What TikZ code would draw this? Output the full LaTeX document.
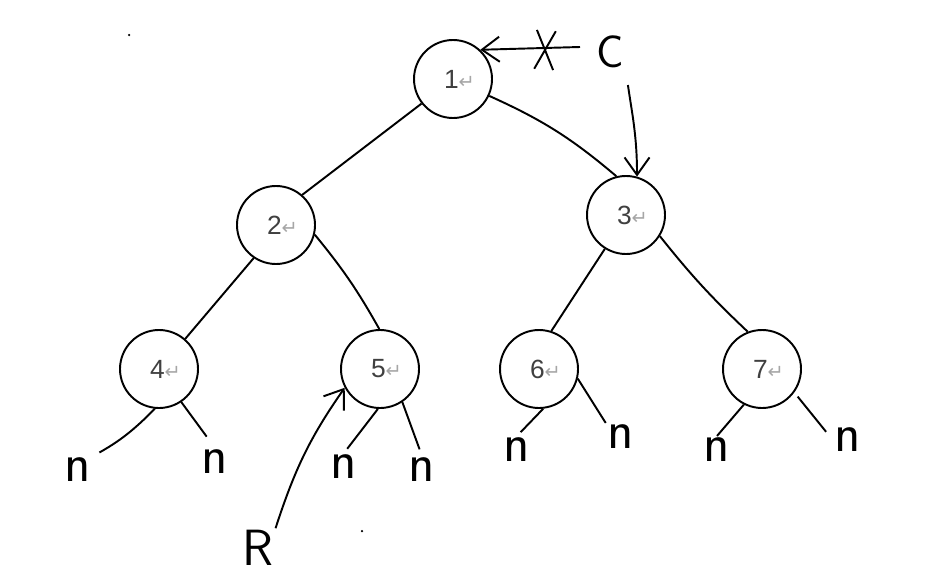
\documentclass[tikz,border=0pt]{standalone}
\usepackage{fontspec}
\newfontfamily\labelfont{Liberation Sans}
\newfontfamily\symfont{DejaVu Sans}
\usetikzlibrary{arrows.meta, shapes.misc, positioning}
\newcommand{\keylabel}[1]{\hspace{0.26cm}{\labelfont\fontsize{15}{15}\selectfont\color{black!75}#1}{\symfont\fontsize{11}{11}\selectfont\color{gray!70}↵}}
\tikzset{
    treenode/.style={circle, draw, line width=1.1pt, minimum size=1.56cm, inner sep=0pt},
    link/.style={line width=1.1pt},
    nullmark/.style={inner sep=1pt, font=\sffamily\fontsize{31}{31}\selectfont},
    pointer/.style={line width=1.1pt, -{Straight Barb[length=0.35cm, width=0.5cm]}},
}
\begin{document}
\begin{tikzpicture}

    \useasboundingbox (0,0) rectangle (18.8,-11.72);

    % Tree nodes
    \node[treenode] (n1) at (9.06,-1.58) {\keylabel{1}};
    \node[treenode] (n2) at (5.52,-4.50) {\keylabel{2}};
    \node[treenode] (n3) at (12.52,-4.30) {\keylabel{3}};
    \node[treenode] (n4) at (3.18,-7.38) {\keylabel{4}};
    \node[treenode] (n5) at (7.60,-7.38) {\keylabel{5}};
    \node[treenode] (n6) at (10.78,-7.38) {\keylabel{6}};
    \node[treenode] (n7) at (15.24,-7.38) {\keylabel{7}};

    % Null children
    \node[nullmark] (n4l) at (1.56,-9.40) {n};
    \node[nullmark] (n4r) at (4.30,-9.24) {n};
    \node[nullmark] (n5l) at (6.88,-9.34) {n};
    \node[nullmark] (n5r) at (8.44,-9.40) {n};
    \node[nullmark] (n6l) at (10.34,-9.00) {n};
    \node[nullmark] (n6r) at (12.42,-8.74) {n};
    \node[nullmark] (n7l) at (14.34,-9.00) {n};
    \node[nullmark] (n7r) at (16.96,-8.80) {n};

    % Pointers
    \node[inner sep=1pt, font=\sffamily\fontsize{26}{26}\selectfont] (cnode) at (12.20,-1.04) {C};
    \node[inner sep=1pt, font=\sffamily\fontsize{29}{29}\selectfont] (rnode) at (5.16,-10.96) {R};
    \coordinate (ctail) at (11.60,-0.94);
    \node[cross out, draw, line width=1.1pt, minimum width=0.34cm, minimum height=0.74cm, rotate=-4] (cut) at (10.90,-1.00) {};

    % Tree edges
    \draw[link] (n1.218) -- (n2.49);
    \draw[link] (n1.-25) to[bend left=8] (n3.104);
    \draw[link] (n2.236) -- (n4.49);
    \draw[link] (n2.-14) to[bend left=5] (n5.91);
    \draw[link] (n3.238) -- (n6.72);
    \draw[link] (n3.-32) to[bend right=4] (n7.111);

    % Edges to null children
    \draw[link, shorten >=4pt] (n4.264) to[bend left=8] (n4l.north east);
    \draw[link, shorten >=8pt] (n4.-56) -- (n4r.north);
    \draw[link, shorten >=3pt] (n5.267) -- (n5l.north);
    \draw[link, shorten >=4pt] (n5.-56) -- (n5r.north);
    \draw[link, shorten >=3pt] (n6.-84) -- (n6l.north);
    \draw[link] (n6.-14) -- (n6r.north west);
    \draw[link] (n7.243) -- (n7l.north);
    \draw[link, shorten <=3pt, shorten >=6pt] (n7.-36) -- (n7r.west);

    % Pointer arrows
    \draw[pointer] (ctail) -- (n1.47);
    \draw[pointer, shorten <=0.3cm] (cnode.south east) to[out=-82,in=90] (n3.74);
    \draw[pointer] (rnode.north east) to[out=72,in=235] (n5.208);

    % Specks
    \fill (2.58,-0.70) circle (0.025);
    \fill (7.24,-10.62) circle (0.025);

\end{tikzpicture}
\end{document}
